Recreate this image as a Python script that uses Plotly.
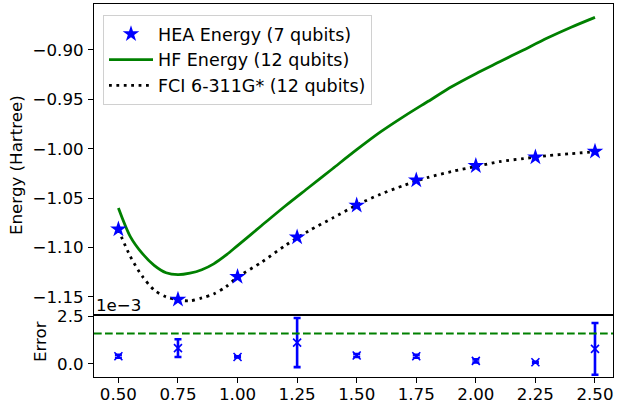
import plotly.graph_objects as go

# ---- data ----
bond = [0.50, 0.75, 1.00, 1.25, 1.50, 1.75, 2.00, 2.25, 2.50]
hea_energy = [-1.0815, -1.1525, -1.1296, -1.0895, -1.0573, -1.0319, -1.0173, -1.0085, -1.0028]

hf_r = [0.50, 0.55, 0.60, 0.65, 0.70, 0.75, 0.80, 0.85, 0.90, 0.95, 1.00,
        1.10, 1.20, 1.30, 1.40, 1.50, 1.60, 1.70, 1.80, 1.90, 2.00, 2.10,
        2.20, 2.30, 2.40, 2.50]
hf_energy = [-1.060, -1.089, -1.106, -1.118, -1.1255, -1.1275, -1.126, -1.1225,
             -1.1165, -1.108, -1.098, -1.078, -1.058, -1.039, -1.020, -1.001,
             -0.983, -0.967, -0.952, -0.937, -0.924, -0.912, -0.900, -0.888,
             -0.877, -0.867]

fci_r = hf_r
fci_energy = [-1.082, -1.109, -1.129, -1.143, -1.150, -1.153, -1.154, -1.151,
              -1.147, -1.140, -1.130, -1.115, -1.098, -1.083, -1.070, -1.057,
              -1.046, -1.037, -1.029, -1.023, -1.018, -1.013, -1.010, -1.007,
              -1.005, -1.003]

error = [0.40e-3, 0.83e-3, 0.36e-3, 1.12e-3, 0.44e-3, 0.40e-3, 0.15e-3, 0.08e-3, 0.79e-3]
error_std = [0.08e-3, 0.47e-3, 0.03e-3, 1.30e-3, 0.08e-3, 0.08e-3, 0.08e-3, 0.02e-3, 1.37e-3]
chem_acc = 1.6e-3

energy_ticks = [-1.15, -1.10, -1.05, -1.00, -0.95, -0.90]
bond_ticks = [0.5, 0.75, 1.0, 1.25, 1.5, 1.75, 2.0, 2.25, 2.5]
error_ticks = [0.0, 2.5e-3]

FONT = "DejaVu Sans"
FS = 16.67
BLUE = "#0000ff"
GREEN = "#008000"

fig = go.Figure()

fig.add_trace(go.Scatter(
    x=hf_r, y=hf_energy, mode="lines", name="HF Energy (12 qubits)", legendrank=2,
    line=dict(color=GREEN, width=2.8, shape="spline", smoothing=0.8), xaxis="x", yaxis="y"))
fig.add_trace(go.Scatter(
    x=fci_r, y=fci_energy, mode="lines", name="FCI 6-311G* (12 qubits)", legendrank=3,
    line=dict(color="black", width=2.8, dash="2.8px,4.6px", shape="spline", smoothing=0.8),
    xaxis="x", yaxis="y"))
fig.add_trace(go.Scatter(
    x=bond, y=hea_energy, mode="markers", name="HEA Energy (7 qubits)", legendrank=1,
    marker=dict(symbol="star", color=BLUE, size=12.5, line=dict(width=0)),
    xaxis="x", yaxis="y"))

fig.add_trace(go.Scatter(
    x=bond, y=error, mode="markers", showlegend=False,
    marker=dict(symbol="x-thin", color=BLUE, size=8, line=dict(color=BLUE, width=1.6)),
    error_y=dict(type="data", array=error_std, color=BLUE, thickness=2.6, width=3.5),
    xaxis="x2", yaxis="y2"))

fig.add_shape(type="line", xref="x2 domain", x0=0, x1=1, yref="y2",
              y0=chem_acc, y1=chem_acc,
              line=dict(color=GREEN, width=2.1, dash="7.7px,3.3px"))

xrange = [0.3976, 2.5756]
bottom_frac = (377 - 315) / 373

def ax(**kw):
    d = dict(showline=True, linecolor="black", linewidth=1.1, mirror=True,
             ticks="outside", ticklen=5, tickwidth=1.1, tickcolor="black",
             showgrid=False, zeroline=False, automargin=False,
             tickfont=dict(family=FONT, size=FS, color="black"))
    d.update(kw)
    return d

fig.update_layout(
    width=617, height=404,
    margin=dict(l=94, r=4, t=4, b=27, autoexpand=False),
    paper_bgcolor="white", plot_bgcolor="white",
    font=dict(family=FONT, size=FS, color="black"),
    xaxis=ax(domain=[0, 1], range=xrange, anchor="y", showticklabels=False, ticks=""),
    yaxis=ax(domain=[bottom_frac, 1], range=[-1.1683, -0.8535], anchor="x",
             tickvals=energy_ticks, ticklabelstandoff=1,
             ticktext=["\u2212%.2f" % abs(v) for v in energy_ticks]),
    xaxis2=ax(domain=[0, 1], range=xrange, anchor="y2", ticklabelstandoff=-3,
              tickvals=bond_ticks, ticktext=["%.2f" % v for v in bond_ticks]),
    yaxis2=ax(domain=[0, bottom_frac], range=[-0.70e-3, 2.58e-3], anchor="x2",
              tickvals=error_ticks, ticklabelstandoff=1,
              ticktext=["%.1f" % (v * 1e3) for v in error_ticks]),
    legend=dict(x=(103 - 94) / 519, y=(377 - 15) / 373, xanchor="left", yanchor="top",
                bgcolor="rgba(255,255,255,0.8)", bordercolor="#d0d0d0", borderwidth=1,
                font=dict(family=FONT, size=17.5, color="black"),
                itemwidth=44, tracegroupgap=0),
    showlegend=True,
)

fig.add_annotation(text="Energy (Hartree)", xref="paper", yref="paper",
                   x=(17 - 94) / 519, y=(377 - 165) / 373, textangle=-90,
                   showarrow=False, xanchor="center", yanchor="middle",
                   font=dict(family=FONT, size=FS, color="black"))
fig.add_annotation(text="Error", xref="paper", yref="paper",
                   x=(40 - 94) / 519, y=(377 - 342) / 373, textangle=-90,
                   showarrow=False, xanchor="center", yanchor="middle",
                   font=dict(family=FONT, size=FS, color="black"))
fig.add_annotation(text="1e\u22123", xref="paper", yref="paper",
                   x=(94 - 94) / 519, y=(377 - 305) / 373,
                   showarrow=False, xanchor="left", yanchor="middle",
                   font=dict(family=FONT, size=FS, color="black"))

fig.write_html("out.html", config={"displayModeBar": False},
               post_script="document.body.style.margin='0';document.body.style.padding='0';")
